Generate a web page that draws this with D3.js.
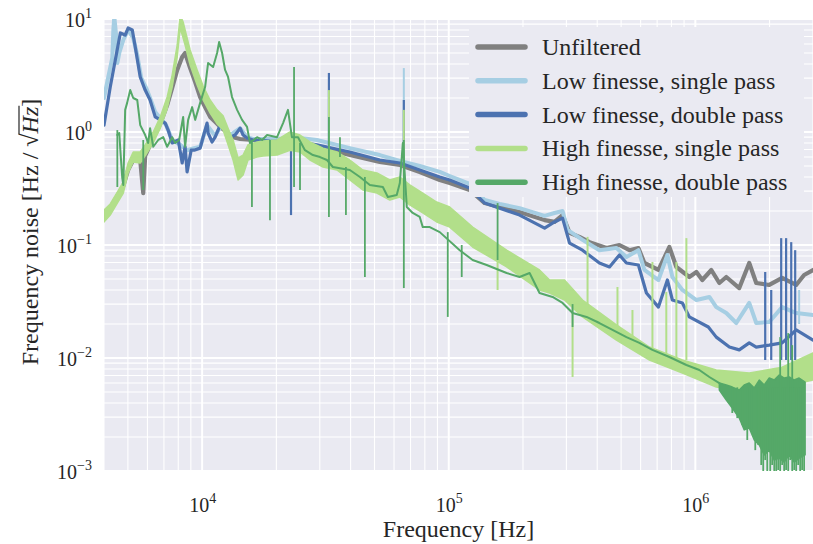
<!DOCTYPE html>
<html>
<head>
<meta charset="utf-8">
<script src="https://cdn.jsdelivr.net/npm/d3@7"></script>
<style>
  body { margin: 0; background: #ffffff; }
  text { font-family: "Liberation Serif", "Times New Roman", serif; fill: #262626; }
</style>
</head>
<body>
<svg id="chart" width="813" height="544"></svg>
<script>
// ---- Frequency-noise spectra (Hz/√Hz) versus Fourier frequency (Hz) ----

const seriesNames = [
  "Unfiltered",
  "Low finesse, single pass",
  "Low finesse, double pass",
  "High finesse, single pass",
  "High finesse, double pass"
];
const seriesColors = ["#808080", "#a6cee3", "#4c72b0", "#b2df8a", "#55a868"];

const xTickValues = [1e4, 1e5, 1e6];
const xTickExponents = ["4", "5", "6"];
const yTickValues = [1e1, 1e0, 1e-1, 1e-2, 1e-3];
const yTickExponents = ["1", "0", "\u22121", "\u22122", "\u22123"];

// Unfiltered laser
const unfilteredFreq = [4000, 4240, 4530, 4790, 5010, 5255, 5610, 5770, 5875, 6335, 6765, 7215, 7560, 7925,
  8300, 8530, 8940, 9370, 9815, 10280, 10775, 11290, 11830, 12740, 13350, 14260, 16090, 18840, 24940, 29220,
  39720, 52550, 63340, 76300, 91960, 100900, 121600, 139900, 160900, 193800, 244800, 268500, 289400, 309000,
  338800, 372400, 436200, 492300, 540600, 587700, 621600, 708600, 784700, 837700, 945500, 1.01e6, 1.067e6,
  1.161e6, 1.251e6, 1.335e6, 1.507e6, 1.654e6, 1.766e6, 1.994e6, 2.249e6, 2.564e6, 2.761e6, 3e6];
const unfilteredNoise = [0.192, 0.212, 0.272, 0.333, 0.461, 0.565, 0.565, 0.288, 0.614, 0.885, 1.18, 1.73, 2.45, 3.54,
  4.61, 5.0, 3.68, 2.77, 2.04, 1.66, 1.36, 1.23, 1.11, 0.98, 0.90, 0.867, 0.85, 0.832, 0.80, 0.74,
  0.625, 0.543, 0.51, 0.443, 0.376, 0.354, 0.307, 0.235, 0.217, 0.196, 0.166, 0.16, 0.184, 0.128,
  0.118, 0.106, 0.094, 0.10, 0.090, 0.094, 0.0693, 0.0601, 0.096, 0.0639, 0.0521, 0.0577, 0.049,
  0.0601, 0.0461, 0.0521, 0.0416, 0.0693, 0.0461, 0.0443, 0.0511, 0.0443, 0.0543, 0.0601];

// Low finesse cavity, single pass
const lowSingleFreq = [4000, 4163, 4321, 4365, 4404, 4486, 4530, 4613, 4790, 5010, 5255, 5455, 5664, 5933, 6150,
  6455, 6765, 7150, 7560, 8150, 8690, 9280, 9815, 10470, 11290, 12050, 12980, 14260, 15210, 16090, 18840,
  24940, 29220, 39720, 52550, 63340, 76300, 91960, 100900, 121600, 139900, 160900, 193800, 244800, 268500,
  289400, 303300, 348700, 408300, 478600, 525600, 587700, 621600, 708600, 770300, 807000, 886000, 1.01e6,
  1.14e6, 1.216e6, 1.335e6, 1.466e6, 1.654e6, 1.766e6, 1.994e6, 2.249e6, 2.564e6, 3e6];
const lowSingleNoise = [2.0, 3.07, 4.52, 8.0, 10.5, 6.93, 4.08, 5.0, 6.52, 8.0, 6.79, 4.80, 3.01, 2.45, 2.0,
  1.50, 1.33, 1.15, 0.85, 0.77, 0.69, 0.72, 0.74, 1.15, 0.922, 1.18, 0.94, 1.08, 0.90, 0.867, 0.867,
  0.885, 0.85, 0.72, 0.625, 0.554, 0.50, 0.443, 0.408, 0.347, 0.25, 0.231, 0.212, 0.181, 0.192,
  0.20, 0.136, 0.111, 0.090, 0.094, 0.0783, 0.090, 0.0601, 0.049, 0.0816, 0.0521, 0.040, 0.0326,
  0.0347, 0.0282, 0.025, 0.0204, 0.0307, 0.0204, 0.0208, 0.0282, 0.025, 0.024];
const lowSingleSpikes = [[65750, 0.565, 3.68], [1.92e6, 0.02, 0.049], [2.636e6, 0.02, 0.040]];

// Low finesse cavity, double pass
const lowDoubleFreq = [4000, 4240, 4445, 4660, 4875, 5010, 5210, 5355, 5610, 5875, 6150, 6455, 6765, 7085, 7280,
  7560, 8000, 8300, 8530, 8690, 9025, 9280, 9815, 10095, 10470, 10575, 10975, 11290, 11830, 12390, 12980,
  13610, 14260, 14660, 15210, 16090, 18840, 24940, 29220, 39720, 52550, 63340, 76300, 91960, 100900,
  121600, 139900, 160900, 193800, 244800, 268500, 289400, 309000, 348700, 408300, 448700, 492300, 525600,
  587700, 633400, 708600, 770300, 807000, 886000, 945500, 1.129e6, 1.216e6, 1.374e6, 1.507e6, 1.654e6,
  1.766e6, 1.994e6, 2.249e6, 2.564e6, 3e6];
const lowDoubleNoise = [1.15, 2.50, 4.34, 7.52, 7.21, 8.32, 8.0, 5.65, 3.07, 2.35, 1.92, 1.36, 1.28, 1.20, 1.04,
  0.80, 0.85, 0.532, 0.74, 0.443, 0.69, 0.69, 0.72, 0.90, 1.20, 0.98, 0.816, 0.90, 1.15, 1.11, 0.90,
  0.94, 1.08, 0.94, 0.885, 0.85, 0.832, 0.816, 0.77, 0.666, 0.565, 0.532, 0.461, 0.40, 0.376,
  0.319, 0.235, 0.212, 0.184, 0.141, 0.16, 0.173, 0.104, 0.090, 0.0693, 0.0639, 0.0816, 0.0693,
  0.0665, 0.0376, 0.0282, 0.049, 0.0326, 0.0307, 0.0231, 0.0188, 0.0153, 0.0125, 0.0118, 0.0136,
  0.0125, 0.0130, 0.0136, 0.0177, 0.0144];
const lowDoubleSpikes = [[22930, 0.184, 0.85], [32670, 0.77, 3.33], [65750, 0.51, 1.92],
  [1.92e6, 0.0096, 0.0577], [2.031e6, 0.0096, 0.040], [2.229e6, 0.0096, 0.115],
  [2.334e6, 0.0096, 0.115], [2.448e6, 0.0096, 0.106], [2.54e6, 0.0096, 0.090]];

// High finesse cavity, single pass (noise band: lower / upper envelope)
const highSingleFreq = [4000, 4240, 4530, 4790, 5010, 5255, 5610, 5875, 6335, 6765, 7215, 7560, 7925, 8150,
  8375, 8530, 8940, 9545, 10095, 10775, 11500, 12160, 12740, 13350, 13990, 14660, 15350, 16700, 17660,
  20120, 22700, 24940, 27360, 30920, 35220, 39720, 44850, 51130, 57680, 63340, 69500, 78470, 89340,
  100900, 125000, 171700, 233400, 256500, 294800, 348700, 478600, 651500, 886000, 1.216e6, 1.654e6,
  2.249e6, 3e6];
const highSingleLow = [0.16, 0.184, 0.235, 0.288, 0.434, 0.543, 0.532, 0.614, 0.80, 1.08, 1.60, 2.50, 4.61, 8.32,
  6.79, 5.89, 3.92, 2.61, 1.92, 1.47, 1.18, 1.04, 0.77, 0.565, 0.376, 0.416, 0.565, 0.60, 0.614,
  0.625, 0.69, 0.666, 0.565, 0.49, 0.461, 0.376, 0.307, 0.288, 0.25, 0.266, 0.226, 0.192, 0.16,
  0.144, 0.096, 0.0639, 0.040, 0.0376, 0.0326, 0.0231, 0.0144, 0.0096, 0.00736, 0.00553, 0.0049,
  0.00553, 0.00638];
const highSingleHigh = [0.204, 0.231, 0.294, 0.361, 0.532, 0.666, 0.666, 0.77, 1.0, 1.36, 2.04, 3.19, 5.89, 10.8,
  9.4, 8.0, 5.32, 3.54, 2.55, 1.92, 1.57, 1.39, 1.08, 0.85, 0.589, 0.625, 0.77, 0.816, 0.832,
  0.85, 1.0, 0.94, 0.816, 0.72, 0.666, 0.565, 0.461, 0.434, 0.376, 0.40, 0.34, 0.288, 0.240,
  0.217, 0.144, 0.090, 0.0601, 0.049, 0.049, 0.0326, 0.0196, 0.0125, 0.0096, 0.00783, 0.00736,
  0.0083, 0.0111];
const highSingleSpikes = [[32670, 0.565, 2.35], [65750, 0.307, 1.57], [157800, 0.040, 0.0736],
  [317800, 0.00679, 0.0326], [365500, 0.025, 0.118], [483300, 0.0144, 0.0425], [555900, 0.0125, 0.0266],
  [669900, 0.0111, 0.0708], [762500, 0.0102, 0.0384], [837700, 0.0096, 0.0708], [919800, 0.0096, 0.115]];

// High finesse cavity, double pass
const highDoubleFreq = [4530, 4613, 4660, 4743, 4790, 4875, 4965, 5110, 5255, 5455, 5610, 5875, 6040, 6150, 6335,
  6640, 6955, 7215, 7560, 7780, 8070, 8375, 8530, 8775, 9110, 9370, 9815, 10280, 10575, 11080, 11500,
  11720, 12050, 12390, 12740, 13220, 13860, 14520, 15210, 15630, 16700, 17500, 18340, 20120, 21290,
  22290, 23130, 24480, 26120, 28130, 30060, 32070, 33900, 39720, 43630, 47880, 54060, 56640, 61540,
  63340, 65140, 67600, 71450, 76300, 78470, 83750, 91960, 110800, 125000, 142500, 171700, 193800,
  212800, 233400, 263700, 289400, 317800, 362100, 408300, 461400, 525600, 593000, 669900, 784700,
  919800, 1.038e6, 1.14e6, 1.251e6];
const highDoubleNoise = [0.94, 0.98, 0.69, 0.392, 0.34, 1.57, 1.81, 2.35, 2.0, 1.92, 1.15, 0.94, 0.80, 1.08, 0.74,
  0.85, 0.90, 0.74, 0.90, 0.80, 0.85, 1.36, 0.74, 1.28, 1.66, 1.28, 1.81, 2.50, 4.08, 3.76, 5.0,
  6.26, 5.0, 3.54, 3.07, 2.04, 1.57, 1.28, 1.11, 0.80, 0.90, 0.85, 0.94, 0.90, 1.20,
  1.57, 0.90, 0.90, 0.69, 0.625, 0.60, 0.565, 0.49, 0.461, 0.40, 0.34, 0.326, 0.266, 0.277,
  0.354, 0.80, 0.217, 0.192, 0.177, 0.144, 0.144, 0.130, 0.090, 0.0736, 0.0665, 0.0565, 0.0521,
  0.0565, 0.0376, 0.0347, 0.0307, 0.025, 0.0231, 0.0204, 0.0177, 0.0153, 0.0136, 0.0118, 0.0102,
  0.00867, 0.00783, 0.00679, 0.0060];
// broadband noise floor above 1.2 MHz (lower / upper envelope)
const highDoubleBandFreq = [1.251e6, 1.335e6, 1.412e6, 1.507e6, 1.579e6, 1.654e6, 1.734e6, 1.816e6, 1.903e6,
  1.994e6, 2.089e6, 2.188e6, 2.292e6, 2.403e6, 2.518e6, 2.636e6, 2.787e6];
const highDoubleBandLow = [0.00521, 0.00425, 0.00361, 0.00294, 0.00231, 0.0024, 0.00188, 0.0017, 0.00139,
  0.00153, 0.00125, 0.0013, 0.0012, 0.00139, 0.0012, 0.0013, 0.00139];
const highDoubleBandHigh = [0.0060, 0.00577, 0.00553, 0.00521, 0.00577, 0.0060, 0.00543, 0.00638, 0.00577,
  0.00665, 0.00638, 0.00708, 0.00665, 0.00679, 0.00638, 0.00665, 0.00613];
const highDoubleSpikes = [[4530, 0.326, 1.04], [5770, 0.307, 0.85], [15920, 0.217, 0.85], [18840, 0.166, 0.85],
  [23590, 0.326, 3.76], [24940, 0.307, 0.80], [32670, 0.177, 1.36], [36220, 0.60, 0.90], [38290, 0.184, 0.49],
  [45710, 0.0521, 0.40], [65750, 0.0416, 0.85], [99100, 0.0231, 0.13], [112900, 0.0521, 0.10],
  [157800, 0.0736, 0.235], [317800, 0.0188, 0.03],
  [1.412e6, 0.0055, 0.00326], [1.479e6, 0.0055, 0.00294], [1.55e6, 0.0055, 0.00255], [1.624e6, 0.0055, 0.00188],
  [1.686e6, 0.0055, 0.00231], [1.75e6, 0.0055, 0.00153], [1.799e6, 0.0055, 0.0017], [1.85e6, 0.0055, 0.00113],
  [1.885e6, 0.0055, 0.0008], [1.92e6, 0.0055, 0.00125], [1.957e6, 0.0055, 0.0008], [2.012e6, 0.0055, 0.0008],
  [2.049e6, 0.0055, 0.00113], [2.089e6, 0.0055, 0.0008], [2.128e6, 0.0055, 0.0008], [2.168e6, 0.0055, 0.00102],
  [2.208e6, 0.0055, 0.0008], [2.249e6, 0.0055, 0.00113], [2.292e6, 0.0055, 0.0008], [2.334e6, 0.0055, 0.00102],
  [2.38e6, 0.0055, 0.0008], [2.425e6, 0.0055, 0.00125], [2.471e6, 0.0055, 0.0008], [2.518e6, 0.0055, 0.00102],
  [2.564e6, 0.0055, 0.0008], [2.612e6, 0.0055, 0.00113], [2.661e6, 0.0055, 0.0008], [2.71e6, 0.0055, 0.00102],
  [2.761e6, 0.0055, 0.0008],
  [2.208e6, 0.005, 0.0153], [2.38e6, 0.005, 0.0166], [2.471e6, 0.005, 0.013]];

// ---- layout ----
const plotLeft = 104, plotRight = 813, plotTop = 19, plotBottom = 471;
const x = d3.scaleLog().domain([4000, 3e6]).range([plotLeft, plotRight]);
const y = d3.scaleLog().domain([1e-3, 10]).range([plotBottom, plotTop]);

const svg = d3.select("#chart");

svg.append("rect")
  .attr("x", plotLeft).attr("y", plotTop)
  .attr("width", plotRight - plotLeft).attr("height", plotBottom - plotTop)
  .attr("fill", "#EAEAF2");

// grid: decades drawn heavier than the 2..9 subdivisions
const isDecade = v => Math.abs(Math.log10(v) - Math.round(Math.log10(v))) < 1e-9;
const grid = svg.append("g");
grid.selectAll("line.gx").data(x.ticks()).join("line")
  .attr("x1", d => x(d)).attr("x2", d => x(d))
  .attr("y1", plotTop).attr("y2", plotBottom)
  .attr("stroke", "#ffffff").attr("stroke-width", d => isDecade(d) ? 2 : 1.1);
grid.selectAll("line.gy").data(y.ticks()).join("line")
  .attr("y1", d => y(d)).attr("y2", d => y(d))
  .attr("x1", plotLeft).attr("x2", plotRight)
  .attr("stroke", "#ffffff").attr("stroke-width", d => isDecade(d) ? 2 : 1.1);

svg.append("clipPath").attr("id", "plotClip").append("rect")
  .attr("x", plotLeft).attr("y", plotTop)
  .attr("width", plotRight - plotLeft).attr("height", plotBottom - plotTop);

const plot = svg.append("g").attr("clip-path", "url(#plotClip)");

const zip2 = (f, v) => f.map((d, i) => ({ f: d, v: v[i] }));
const zip3 = (f, lo, hi) => f.map((d, i) => ({ f: d, lo: lo[i], hi: hi[i] }));

const line = d3.line().x(d => x(d.f)).y(d => y(d.v));
const band = d3.area().x(d => x(d.f)).y0(d => y(d.lo)).y1(d => y(d.hi));

function drawLine(f, v, color, width) {
  plot.append("path").datum(zip2(f, v))
    .attr("d", line).attr("fill", "none")
    .attr("stroke", color).attr("stroke-width", width)
    .attr("stroke-linejoin", "round").attr("stroke-linecap", "round");
}
function drawBand(f, lo, hi, color, width) {
  plot.append("path").datum(zip3(f, lo, hi))
    .attr("d", band).attr("fill", color)
    .attr("stroke", color).attr("stroke-width", width)
    .attr("stroke-linejoin", "round");
}
function drawSpikes(spikes, color, width) {
  plot.append("g").selectAll("line").data(spikes).join("line")
    .attr("x1", d => x(d[0])).attr("x2", d => x(d[0]))
    .attr("y1", d => y(d[1])).attr("y2", d => y(d[2]))
    .attr("stroke", color).attr("stroke-width", width);
}

drawLine(unfilteredFreq, unfilteredNoise, seriesColors[0], 4.2);
drawLine(lowSingleFreq, lowSingleNoise, seriesColors[1], 4);
drawSpikes(lowSingleSpikes, seriesColors[1], 2);
drawLine(lowDoubleFreq, lowDoubleNoise, seriesColors[2], 3.2);
drawSpikes(lowDoubleSpikes, seriesColors[2], 2.2);
drawBand(highSingleFreq, highSingleLow, highSingleHigh, seriesColors[3], 1.5);
drawSpikes(highSingleSpikes, seriesColors[3], 2);
drawLine(highDoubleFreq, highDoubleNoise, seriesColors[4], 2);
drawBand(highDoubleBandFreq, highDoubleBandLow, highDoubleBandHigh, seriesColors[4], 1.5);
drawSpikes(highDoubleSpikes, seriesColors[4], 1.8);

// ---- axes (ticks labelled as powers of ten) ----
const xAxis = svg.append("g").attr("transform", `translate(0,${plotBottom})`)
  .call(d3.axisBottom(x).tickValues(xTickValues).tickSize(0).tickFormat(() => ""));
xAxis.select(".domain").remove();
xAxis.selectAll(".tick text").each(function(d, i) {
  const t = d3.select(this).attr("y", 41).attr("dy", null)
    .attr("font-size", 20).attr("text-anchor", "middle").attr("fill", "#262626");
  t.text(null);
  t.append("tspan").text("10");
  t.append("tspan").attr("dy", -9).attr("font-size", 14).text(xTickExponents[i]);
});

const yAxis = svg.append("g").attr("transform", `translate(${plotLeft},0)`)
  .call(d3.axisLeft(y).tickValues(yTickValues).tickSize(0).tickFormat(() => ""));
yAxis.select(".domain").remove();
yAxis.selectAll(".tick text").each(function(d, i) {
  const t = d3.select(this).attr("x", -12).attr("dy", 7)
    .attr("font-size", 20).attr("text-anchor", "end").attr("fill", "#262626");
  t.text(null);
  t.append("tspan").text("10");
  t.append("tspan").attr("dy", -9).attr("font-size", 14).text(yTickExponents[i]);
});

// axis titles
svg.append("text")
  .attr("x", (plotLeft + plotRight) / 2).attr("y", 537)
  .attr("text-anchor", "middle").attr("font-size", 24)
  .text("Frequency [Hz]");

const yTitle = svg.append("g").attr("transform", "translate(38,232) rotate(-90)");
const yt = yTitle.append("text").attr("text-anchor", "middle").attr("font-size", 24);
yt.append("tspan").text("Frequency noise [Hz / ");
yt.append("tspan").text("\u221A");
yt.append("tspan").attr("font-style", "italic").text("Hz");
yt.append("tspan").text("]");
{
  const node = yt.node();
  const full = node.textContent;
  const iH = full.lastIndexOf("Hz");
  const s = node.getStartPositionOfChar(iH);
  const e = node.getEndPositionOfChar(iH + 1);
  yTitle.append("line")
    .attr("x1", s.x - 1).attr("x2", e.x + 1)
    .attr("y1", -19).attr("y2", -19)
    .attr("stroke", "#262626").attr("stroke-width", 1.2);
}

// ---- legend ----
const legend = svg.append("g");
legend.append("rect")
  .attr("x", 469).attr("y", 27).attr("width", 335).attr("height", 170)
  .attr("fill", "#EAEAF2");
const legendRows = legend.selectAll("g.row").data(seriesNames).join("g")
  .attr("transform", (d, i) => `translate(0,${47 + i * 33.8})`);
legendRows.append("line")
  .attr("x1", 478).attr("x2", 525).attr("y1", 0).attr("y2", 0)
  .attr("stroke", (d, i) => seriesColors[i]).attr("stroke-width", 5.5)
  .attr("stroke-linecap", "round");
legendRows.append("text")
  .attr("x", 542).attr("y", 8).attr("font-size", 24)
  .text(d => d);
</script>
</body>
</html>
